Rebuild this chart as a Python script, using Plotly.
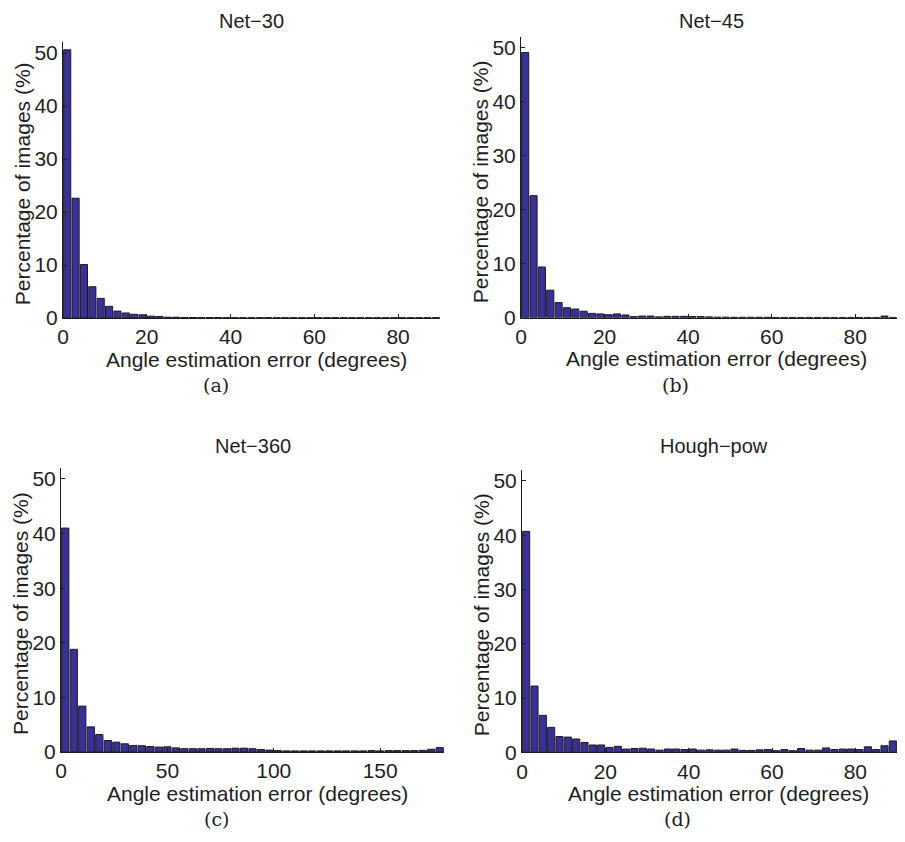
import numpy as np
import plotly.graph_objects as go

# histogram values (% of images), 45 bins each
net30 = [50.6, 22.6, 10.1, 5.9, 3.7, 2.2, 1.3, 0.95, 0.7, 0.6,
         0.35, 0.3, 0.15, 0.15, 0.1, 0.1, 0.08, 0.08, 0.08, 0.05,
         0.05, 0.05, 0.05, 0.05, 0.05, 0.05, 0.05, 0.05, 0.05, 0.05,
         0.05, 0.05, 0.05, 0.05, 0.05, 0.05, 0.05, 0.05, 0.05, 0.05,
         0.05, 0.05, 0.05, 0.05, 0.05]
net45 = [49.1, 22.6, 9.4, 5.1, 2.8, 1.85, 1.6, 1.2, 0.8, 0.7,
         0.55, 0.7, 0.5, 0.2, 0.3, 0.3, 0.15, 0.25, 0.25, 0.25,
         0.2, 0.2, 0.15, 0.1, 0.1, 0.08, 0.08, 0.08, 0.08, 0.08,
         0.05, 0.05, 0.05, 0.05, 0.05, 0.05, 0.05, 0.05, 0.05, 0.05,
         0.05, 0.05, 0.05, 0.3, 0.05]
net360 = [41.0, 18.8, 8.4, 4.6, 3.2, 2.1, 1.8, 1.5, 1.2, 1.15,
          1.0, 0.9, 0.95, 0.75, 0.6, 0.6, 0.6, 0.65, 0.6, 0.6,
          0.7, 0.7, 0.6, 0.45, 0.35, 0.25, 0.2, 0.2, 0.2, 0.2,
          0.2, 0.2, 0.2, 0.2, 0.2, 0.2, 0.25, 0.2, 0.25, 0.25,
          0.25, 0.25, 0.3, 0.5, 0.8]
hough_pow = [40.7, 12.2, 6.8, 4.6, 2.9, 2.8, 2.45, 1.8, 1.35, 1.35,
             0.9, 1.1, 0.6, 0.7, 0.75, 0.6, 0.4, 0.6, 0.6, 0.5,
             0.6, 0.4, 0.45, 0.4, 0.4, 0.6, 0.35, 0.35, 0.45, 0.5,
             0.3, 0.5, 0.3, 0.7, 0.4, 0.4, 0.8, 0.5, 0.6, 0.6,
             0.5, 1.0, 0.5, 1.2, 2.1]

titles = ["Net\u221230", "Net\u221245", "Net\u2212360", "Hough\u2212pow"]
sublabels = ["(a)", "(b)", "(c)", "(d)"]
x_max = [90, 90, 180, 90]
x_ticks = [[0, 20, 40, 60, 80], [0, 20, 40, 60, 80], [0, 50, 100, 150], [0, 20, 40, 60, 80]]
y_ticks = [0, 10, 20, 30, 40, 50]

# page has an 8px body margin, so the figure is drawn 8px smaller and shifted
OFF = 8
W, H = 905 - 2 * OFF, 842 - 2 * OFF
# plot areas in page pixels: left, right, top, bottom
boxes = [(63, 440, 42.4, 318), (521, 901, 36.9, 317.7),
         (61, 444, 468, 752), (522, 905, 470, 752.3)]
title_y = [None, None, 446, 446]  # top row titles are pinned to the top edge

FONT = "Liberation Sans, Arial, sans-serif"
BAR = "#39309A"
INK = "#1e1e1e"

fig = go.Figure()
data = [net30, net45, net360, hough_pow]


def note(text, x, y, size, family=FONT, angle=0, yanchor="middle"):
    fig.add_annotation(text=text, x=(x - OFF) / W, y=(H - (y - OFF)) / H,
                       xref="paper", yref="paper",
                       xanchor="center", yanchor=yanchor, textangle=angle,
                       showarrow=False, font=dict(size=size, color=INK, family=family))


for i, vals in enumerate(data):
    edges = np.linspace(0, x_max[i], len(vals) + 1)
    centers = (edges[:-1] + edges[1:]) / 2
    n = "" if i == 0 else str(i + 1)
    fig.add_trace(go.Bar(x=centers, y=vals, xaxis="x" + n, yaxis="y" + n,
                         marker=dict(color=BAR, line=dict(color="#1a1a1a", width=1)),
                         showlegend=False))
    l, r, t, b = boxes[i]
    dom_x = [(l - OFF) / W, min((r - OFF) / W, 1.0)]
    dom_y = [(H - (b - OFF)) / H, (H - (t - OFF)) / H]
    common = dict(ticks="inside", ticklen=4, tickcolor=INK, showline=True,
                  linecolor=INK, linewidth=1, showgrid=False, zeroline=False,
                  automargin=False, tickfont=dict(size=21, color=INK, family=FONT))
    fig.layout["xaxis" + n] = dict(domain=dom_x, range=[0, x_max[i]], anchor="y" + n,
                                   tickvals=x_ticks[i], **common)
    fig.layout["yaxis" + n] = dict(domain=dom_y, range=[0, 52], anchor="x" + n,
                                   tickvals=y_ticks, **common)
    cx = (l + r) / 2
    if title_y[i] is None:
        note(titles[i], cx, OFF, 20, yanchor="top")
    else:
        note(titles[i], cx, title_y[i], 20)
    note("Angle estimation error (degrees)", cx + 5, b + 41, 21)
    note("Percentage of images (%)", l - 41, (t + b) / 2 + 4, 21, angle=-90)
    note(sublabels[i], cx - 36, b + 67, 19, family="DejaVu Serif, serif")

fig.update_layout(width=W, height=H, margin=dict(l=0, r=0, t=0, b=0),
                  template="none", plot_bgcolor="white", paper_bgcolor="white",
                  bargap=0.15)
fig.write_html("out.html")
